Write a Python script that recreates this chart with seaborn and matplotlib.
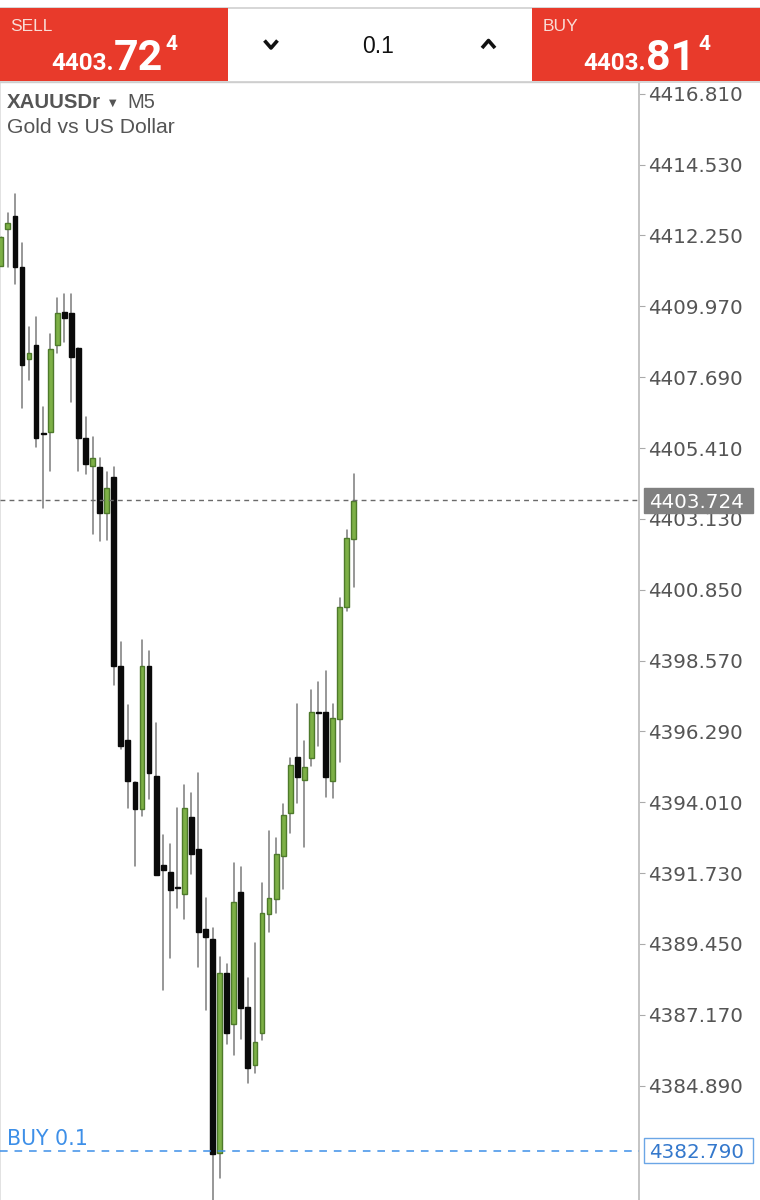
import pandas as pd
import seaborn as sns
from matplotlib import pyplot as plt
from matplotlib.lines import Line2D
from matplotlib.patches import Rectangle
from matplotlib.transforms import blended_transform_factory

# Candle values, oldest first
opens = [4411.27, 4412.46, 4412.88, 4411.24, 4408.27, 4408.72, 4405.89, 4405.92, 4408.72, 4409.79,
         4409.75, 4408.63, 4405.73, 4404.83, 4404.79, 4403.31, 4404.47, 4398.38, 4396.03, 4394.65,
         4393.78, 4398.38, 4394.84, 4392.00, 4391.75, 4391.28, 4391.07, 4393.55, 4392.49, 4389.94,
         4389.62, 4382.73, 4388.52, 4386.88, 4391.13, 4387.43, 4385.56, 4386.59, 4390.43, 4390.91,
         4392.29, 4393.68, 4395.48, 4394.74, 4395.42, 4396.93, 4396.90, 4394.68, 4396.68, 4400.28,
         4402.47]
closes = [4412.20, 4412.65, 4411.24, 4408.08, 4408.47, 4405.73, 4405.86, 4408.59, 4409.75, 4409.59,
          4408.34, 4405.73, 4404.89, 4405.08, 4403.31, 4404.12, 4398.38, 4395.81, 4394.71, 4393.78,
          4398.38, 4394.94, 4391.68, 4391.84, 4391.20, 4391.24, 4393.84, 4392.33, 4389.85, 4389.68,
          4382.69, 4388.52, 4386.59, 4390.81, 4387.40, 4385.46, 4386.30, 4390.46, 4390.94, 4392.33,
          4393.61, 4395.22, 4394.81, 4395.16, 4396.90, 4396.88, 4394.81, 4396.71, 4400.31, 4402.51,
          4403.70]
highs = [4412.20, 4412.98, 4413.59, 4412.01, 4409.30, 4409.63, 4406.73, 4409.08, 4410.24, 4410.37,
         4410.37, 4408.63, 4406.40, 4405.76, 4405.08, 4404.63, 4404.79, 4399.16, 4397.13, 4394.65,
         4399.22, 4398.87, 4396.55, 4392.97, 4392.68, 4393.84, 4394.55, 4394.32, 4394.94, 4390.94,
         4389.97, 4389.04, 4388.81, 4392.04, 4391.94, 4388.36, 4389.49, 4391.42, 4393.10, 4392.87,
         4393.94, 4395.45, 4397.16, 4395.97, 4397.61, 4397.87, 4398.25, 4397.16, 4400.57, 4402.76,
         4404.57]
lows = [4411.27, 4411.24, 4410.69, 4406.69, 4407.60, 4405.44, 4403.47, 4404.66, 4408.47, 4408.82,
        4406.89, 4404.66, 4404.57, 4402.64, 4402.41, 4402.44, 4397.77, 4395.71, 4393.81, 4391.97,
        4393.58, 4394.10, 4391.68, 4387.98, 4389.01, 4390.62, 4390.26, 4391.71, 4388.72, 4387.33,
        4381.10, 4381.92, 4386.24, 4385.88, 4386.40, 4384.98, 4385.30, 4386.37, 4389.85, 4390.46,
        4391.23, 4393.03, 4394.00, 4392.58, 4395.19, 4395.81, 4394.19, 4394.16, 4395.29, 4400.15,
        4400.93]

tick_labels = ["4416.810", "4414.530", "4412.250", "4409.970", "4407.690", "4405.410", "4403.130", "4400.850",
               "4398.570", "4396.290", "4394.010", "4391.730", "4389.450", "4387.170", "4384.890"]
bid_price = 4403.724
order_price = 4382.790

RED = "#E83A2B"
GREEN = "#7DB046"
GREEN_EDGE = "#4E7A2B"
GREY_TEXT = "#555555"
BLUE = "#3D8FE8"

sns.set_theme(style="white")
plt.rcParams["font.family"] = ["Liberation Sans", "DejaVu Sans"]

df = pd.DataFrame({"i": range(len(opens)), "open": opens, "close": closes, "high": highs, "low": lows})
df["bottom"] = df[["open", "close"]].min(axis=1)
df["body"] = (df["close"] - df["open"]).abs()
up = df[df["close"] > df["open"]]
down = df[df["close"] <= df["open"]]
wicks = df.melt(id_vars="i", value_vars=["high", "low"], value_name="price")

fig = plt.figure(figsize=(7.6, 12), dpi=100)
ax = fig.add_axes([0, 0, 639 / 760, 1 - 82 / 1200])

sns.lineplot(data=wicks, x="i", y="price", units="i", estimator=None, sort=False,
             color="#808080", linewidth=1.15, legend=False, ax=ax, zorder=2)
sns.barplot(data=up, x="i", y="body", bottom=up["bottom"].values, native_scale=True, errorbar=None,
            width=0.68, color=GREEN, saturation=1, edgecolor=GREEN_EDGE, linewidth=1.0, ax=ax, zorder=3)
sns.barplot(data=down, x="i", y="body", bottom=down["bottom"].values, native_scale=True, errorbar=None,
            width=0.68, color="#0A0A0A", saturation=1, edgecolor="#0A0A0A", linewidth=1.0, ax=ax, zorder=3)

ax.axhline(bid_price, color="#6A6A6A", linewidth=1.0, dashes=(3.5, 3), zorder=4)
ax.axhline(order_price, color=BLUE, linewidth=1.1, dashes=(5, 4.5), zorder=4)

ax.set_xlim(-0.113, 90.4)
ax.set_ylim(4381.21, 4417.19)
ax.set_xlabel("")
ax.set_ylabel("")
ax.set_xticks([])
ax.yaxis.tick_right()
ax.set_yticks([float(t) for t in tick_labels], tick_labels)
ax.tick_params(axis="y", length=4.5, width=0.8, color="#AAAAAA", pad=2, labelcolor=GREY_TEXT, labelsize=14.3)
for label in ax.get_yticklabels():
    label.set_family("DejaVu Sans")
for name, color, width in [("right", "#C4C4C4", 1.4), ("left", "#DDDDDD", 1.2), ("top", "#CCCCCC", 1.0)]:
    ax.spines[name].set_color(color)
    ax.spines[name].set_linewidth(width)
ax.spines["bottom"].set_visible(False)


def fx(x):
    return x / 760


def fy(y):
    return 1 - y / 1200


# price boxes on the right, y follows the price scale
price_trans = blended_transform_factory(fig.transFigure, ax.transData)
box_h = 25 / 1200 * 35.98 / (1118 / 1200)
for price, face, edge, text_color in [(bid_price, "#808080", "#808080", "white"),
                                      (order_price, "#FFFFFF", "#6BA6E6", "#3478CC")]:
    fig.add_artist(Rectangle((fx(644), price - box_h / 2), fx(109), box_h, transform=price_trans,
                             facecolor=face, edgecolor=edge, linewidth=1.0, zorder=6))
    fig.text(fx(649), price, f"{price:.3f}", transform=price_trans, color=text_color, fontsize=14.3,
             family="DejaVu Sans", va="center_baseline", ha="left", zorder=7)

# header bar with sell / lot / buy
fig.add_artist(Line2D([0, 1], [fy(8), fy(8)], color="#CFCFCF", linewidth=1.2, zorder=4))
fig.add_artist(Line2D([0, 1], [fy(81.5), fy(81.5)], color="#CFCFCF", linewidth=1.2, zorder=4))
for x0, name, name_x, pips, big, frac, x1, x2, x3 in [(0, "SELL", 10, "4403.", "72", "4", 51, 114, 165),
                                                      (532, "BUY", 543, "4403.", "81", "4", 583, 646, 698)]:
    fig.add_artist(Rectangle((fx(x0), fy(81)), fx(228), 73 / 1200, transform=fig.transFigure,
                             facecolor=RED, edgecolor="none", zorder=5))
    fig.text(fx(name_x), fy(31), name, color="#F9DCD6", fontsize=12.5, zorder=6)
    fig.text(fx(x1), fy(70), pips, color="white", fontsize=17.5, fontweight="bold", family="Roboto", zorder=6)
    fig.text(fx(x2), fy(70), big, color="white", fontsize=31, fontweight="bold", family="Roboto", zorder=6)
    fig.text(fx(x3), fy(50), frac, color="white", fontsize=15, fontweight="bold", family="Roboto", zorder=6)

fig.text(fx(378), fy(53), "0.1", color="#111111", fontsize=16.5, ha="center", zorder=6)
for cx, top, mid in [(271, 40.5, 48), (488.5, 48, 40.5)]:
    fig.add_artist(Line2D([fx(cx - 6.5), fx(cx), fx(cx + 6.5)], [fy(top), fy(mid), fy(top)],
                          color="#111111", linewidth=2.6, solid_capstyle="butt", zorder=6))

# symbol block and order label
fig.text(fx(7), fy(108), "XAUUSDr", color=GREY_TEXT, fontsize=14.7, fontweight="bold", zorder=6)
fig.text(fx(109), fy(106), "▼", color=GREY_TEXT, fontsize=7, family="DejaVu Sans", zorder=6)
fig.text(fx(127), fy(108), "M5", color=GREY_TEXT, fontsize=14.5, zorder=6)
fig.text(fx(7), fy(133), "Gold vs US Dollar", color=GREY_TEXT, fontsize=15.2, zorder=6)
fig.text(fx(7), fy(1145), "BUY 0.1", color=BLUE, fontsize=14.8, family="DejaVu Sans", zorder=6)

plt.savefig("out.png", dpi=100)
